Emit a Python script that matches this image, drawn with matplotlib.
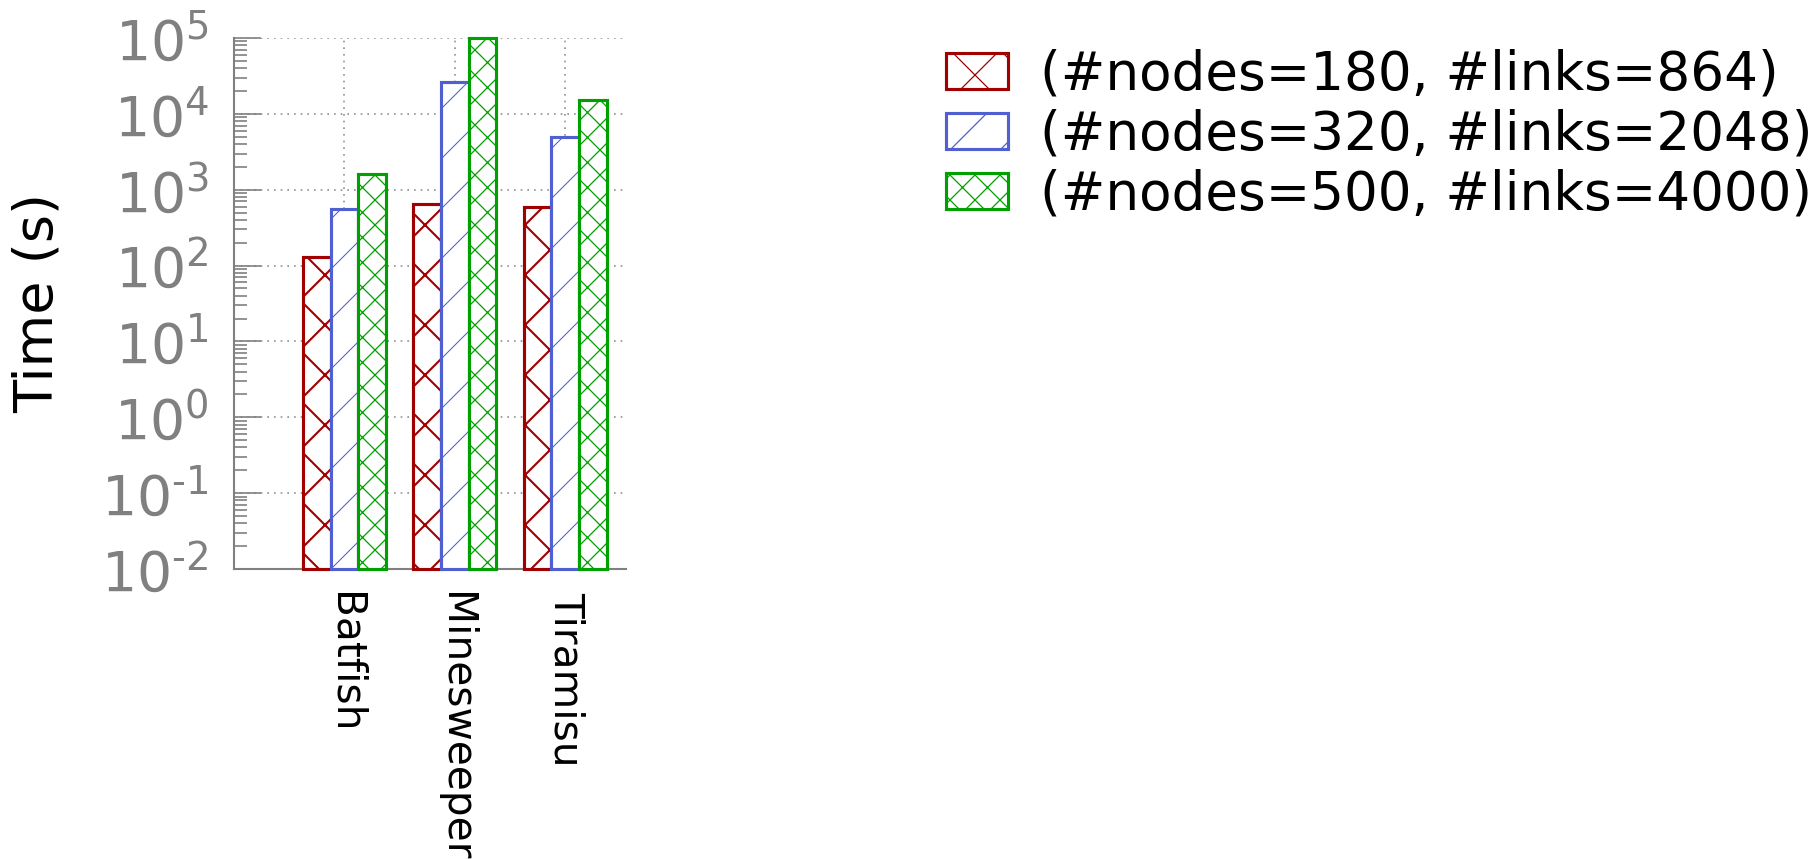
import numpy as np
import matplotlib.pyplot as plt
from matplotlib.ticker import FuncFormatter, LogLocator, NullFormatter

# data
tools = ["Batfish", "Minesweeper", "Tiramisu"]
series = ["(#nodes=180, #links=864)",
          "(#nodes=320, #links=2048)",
          "(#nodes=500, #links=4000)"]
times_180 = [130, 650, 600]
times_320 = [560, 26000, 5000]
times_500 = [1600, 100000, 15000]

colors = ["#A00000", "#5060D0", "#00A000"]
hatches = ["x", "/", "xx"]
hatch_lw = [1.0, 0.5, 0.6]

DPI = 150
fig = plt.figure(figsize=(1816 / DPI, 859 / DPI), dpi=DPI)
ax = fig.add_axes([234 / 1816, 1 - 569 / 859, (626 - 234) / 1816, (569 - 38) / 859])

x = np.arange(len(tools))
width = 0.25
bottom = 0.01
for i, vals in enumerate([times_180, times_320, times_500]):
    plt.rcParams["hatch.linewidth"] = hatch_lw[i]
    bars = ax.bar(x + (i - 1) * width, np.array(vals) - bottom, width, bottom=bottom,
                  facecolor="white", edgecolor=colors[i], hatch=hatches[i],
                  linewidth=1.5, label=series[i], clip_on=False, zorder=3)
    for p in bars:
        if hasattr(p, "set_hatch_linewidth"):
            p.set_hatch_linewidth(hatch_lw[i])

ax.set_yscale("log")
ax.set_ylim(1e-2, 1e5)
ax.set_xlim(-1, 2.55)

ax.yaxis.set_major_locator(LogLocator(base=10, numticks=20))
ax.yaxis.set_minor_locator(LogLocator(base=10, subs=np.arange(2, 10), numticks=20))
ax.yaxis.set_minor_formatter(NullFormatter())


def fmt(v, pos):
    e = int(round(np.log10(v)))
    s = str(e).replace("-", "\u2010")
    return r"$\mathregular{10^{%s}}$" % s


ax.yaxis.set_major_formatter(FuncFormatter(fmt))

ax.set_xticks(x)
ax.set_xticklabels(tools, rotation=270, ha="center", va="top")

gray = "#808080"
ax.tick_params(axis="y", which="major", direction="in", length=13, width=0.8,
               color=gray, labelcolor=gray, labelsize=26.5, pad=12)
ax.tick_params(axis="y", which="minor", direction="in", length=6, width=0.8, color=gray)
ax.tick_params(axis="x", length=0, labelsize=19.5, pad=11)

for s in ["top", "right"]:
    ax.spines[s].set_visible(False)
for s in ["left", "bottom"]:
    ax.spines[s].set_color(gray)
    ax.spines[s].set_linewidth(1.0)

ax.grid(True, which="major", color="#909090", linestyle=(0, (1, 3)), linewidth=0.8)
ax.set_axisbelow(True)

fig.text(38 / 1816, 1 - 303 / 859, "Time (s)", rotation=90, ha="center",
         va="center", fontsize=26)

leg = ax.legend(loc="upper left", bbox_to_anchor=(946 / 1816, 0.943),
                bbox_transform=fig.transFigure, frameon=False, fontsize=25.5,
                handlelength=1.16, handleheight=0.66, handletextpad=0.6,
                labelspacing=0.15, borderpad=0, borderaxespad=0)

fig.savefig("out.png", dpi=DPI)
